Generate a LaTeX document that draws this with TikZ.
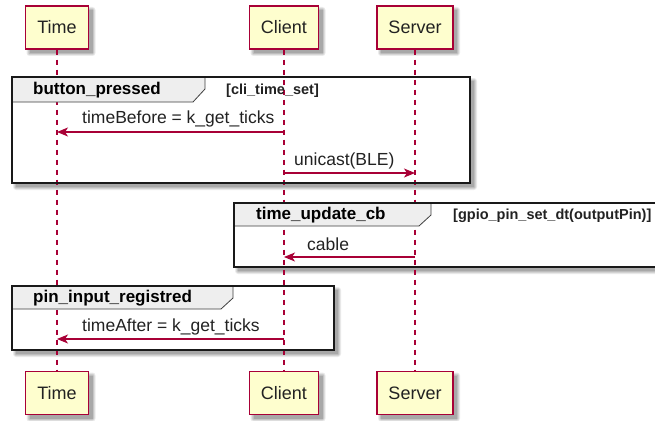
\documentclass[tikz,border=0pt]{standalone}
\usepackage{fontspec}
\setmainfont{Liberation Sans}
\usetikzlibrary{arrows.meta}
\definecolor{umlred}{HTML}{A80036}
\definecolor{umlfill}{HTML}{FEFECE}
\definecolor{tabfill}{HTML}{EEEEEE}
\definecolor{ink}{HTML}{222222}

% soft drop shadow: nested grey rectangles, lightest outside,
% shifted down and right of the box given by its two corners
\newcommand\dropshade[2]{%
  \fill[black!8,  rounded corners=3pt] ([shift={(1,1)}]#1) rectangle ([shift={(7,7)}]#2);
  \fill[black!16, rounded corners=2pt] ([shift={(2,2)}]#1) rectangle ([shift={(6,6)}]#2);
  \fill[black!26, rounded corners=1pt] ([shift={(3,3)}]#1) rectangle ([shift={(5,5)}]#2);
  \fill[black!34] ([shift={(4,4)}]#1) rectangle ([shift={(4,4)}]#2);}

\begin{document}
\begin{tikzpicture}[x=1pt,y=-1pt,
  actor/.style={draw=umlred, line width=1.3pt, fill=umlfill, minimum width=#1,
    minimum height=43pt, inner sep=0pt, font=\fontsize{18}{20}\selectfont, text=ink},
  lifeline/.style={draw=umlred, line width=1.2pt, dash pattern=on 5pt off 5pt},
  msg/.style={draw=umlred, line width=1.2pt, -{Stealth[length=11pt,width=9pt,inset=3pt]}},
  msgtext/.style={font=\fontsize{17.5}{20}\selectfont, text=ink, anchor=west, inner sep=0pt},
  grouptitle/.style={font=\bfseries\fontsize{17}{20}\selectfont, text=black, anchor=west, inner sep=0pt},
  groupguard/.style={font=\bfseries\fontsize{14.5}{17}\selectfont, text=ink, anchor=west, inner sep=0pt},
  frameback/.style={fill=white},
  frameline/.style={draw=black!90, line width=2pt},
  tabshape/.style={fill=tabfill, draw=black!75, line width=0.8pt},
]
\useasboundingbox (0,0) rectangle (655,420);

% rows of the messages
\coordinate (y1) at (0,132);
\coordinate (y2) at (0,173);
\coordinate (y3) at (0,257);
\coordinate (y4) at (0,339);

% shadows of the participant boxes
\coordinate (sTa) at (25.5,6);    \coordinate (sTb) at (88.5,49);
\coordinate (sCa) at (249.5,6);   \coordinate (sCb) at (318.5,49);
\coordinate (sSa) at (377,6);     \coordinate (sSb) at (453,49);
\coordinate (sTc) at (25.5,371.5);\coordinate (sTd) at (88.5,414.5);
\coordinate (sCc) at (249.5,371.5);\coordinate (sCd) at (318.5,414.5);
\coordinate (sSc) at (377,371.5); \coordinate (sSd) at (453,414.5);
\dropshade{sTa}{sTb} \dropshade{sCa}{sCb} \dropshade{sSa}{sSb}
\dropshade{sTc}{sTd} \dropshade{sCc}{sCd} \dropshade{sSc}{sSd}

% participants, top and bottom
\node[actor=63pt] (tTime)   at (57,27.5)  {Time};
\node[actor=69pt] (tClient) at (284,27.5) {Client};
\node[actor=76pt] (tServer) at (415,27.5) {Server};
\node[actor=63pt] (bTime)   at (57,393)  {Time};
\node[actor=69pt] (bClient) at (284,393) {Client};
\node[actor=76pt] (bServer) at (415,393) {Server};

% group frames: corners, shadows and white backgrounds
\coordinate (g1a) at (12,77);   \coordinate (g1b) at (470,183);
\coordinate (g2a) at (234,203); \coordinate (g2b) at (668,267);
\coordinate (g3a) at (12,286);  \coordinate (g3b) at (334,350);
\dropshade{g1a}{g1b} \dropshade{g2a}{g2b} \dropshade{g3a}{g3b}
\path[frameback] (g1a) rectangle (g1b);
\path[frameback] (g2a) rectangle (g2b);
\path[frameback] (g3a) rectangle (g3b);

% lifelines
\draw[lifeline] (tTime.south)   -- (bTime.north);
\draw[lifeline] (tClient.south) -- (bClient.north);
\draw[lifeline] (tServer.south) -- (bServer.north);

% group: button_pressed
\draw[tabshape] (12,77) -- (205,77) -- (205,89) -- (193,102) -- (12,102) -- cycle;
\draw[frameline] (g1a) rectangle (g1b);
\node[grouptitle] (g1title) at (33,90) {button\_pressed};
\node[groupguard] (g1guard) at (226,90.5) {[cli\_time\_set]};

% group: time_update_cb
\draw[tabshape] (234,203) -- (431,203) -- (431,215) -- (419,226) -- (234,226) -- cycle;
\draw[frameline] (g2a) rectangle (g2b);
\node[grouptitle] (g2title) at (256,215) {time\_update\_cb};
\node[groupguard] (g2guard) at (453,215.5) {[gpio\_pin\_set\_dt(outputPin)]};

% group: pin_input_registred
\draw[tabshape] (12,286) -- (233,286) -- (233,298) -- (221,309) -- (12,309) -- cycle;
\draw[frameline] (g3a) rectangle (g3b);
\node[grouptitle] (g3title) at (33,298.5) {pin\_input\_registred};

% messages
\draw[msg] (tClient |- y1) -- (tTime |- y1);
\node[msgtext] (m1) at (82,119) {timeBefore = k\_get\_ticks};

\draw[msg] (tClient |- y2) -- (tServer |- y2);
\node[msgtext] (m2) at (294,161) {unicast(BLE)};

\draw[msg] (tServer |- y3) -- (tClient |- y3);
\node[msgtext] (m3) at (307,244) {cable};

\draw[msg] (tClient |- y4) -- (tTime |- y4);
\node[msgtext] (m4) at (82,327) {timeAfter = k\_get\_ticks};
\end{tikzpicture}
\end{document}
